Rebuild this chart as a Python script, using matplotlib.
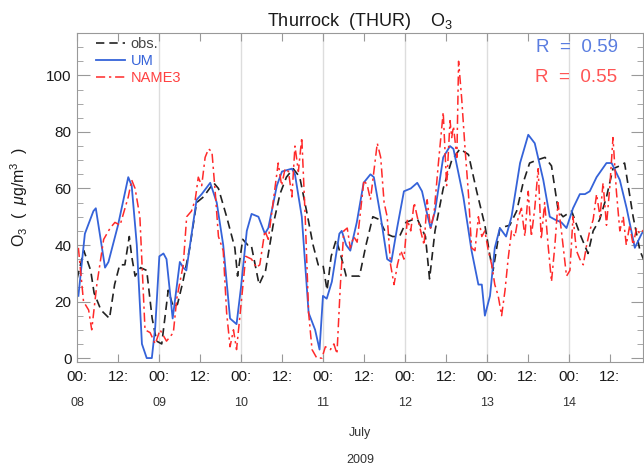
import numpy as np
import matplotlib
matplotlib.use("Agg")
import matplotlib.pyplot as plt
from matplotlib.ticker import MultipleLocator

plt.rcParams['font.family'] = ['Liberation Sans', 'DejaVu Sans']
plt.rcParams['mathtext.fontset'] = 'custom'
plt.rcParams['mathtext.rm'] = 'Liberation Sans'
plt.rcParams['mathtext.it'] = 'Liberation Sans:italic'

# === values: (hours since 8 July 00:00, O3 in ug/m3) ===
obs = [(0, 28), (2, 38), (4, 31), (5, 23), (7, 17), (9.5, 14), (11, 26), (12.5, 33), (14, 33),
       (15.3, 43), (16, 36), (17, 29), (18.6, 32), (20.4, 31), (22, 14), (23.3, 6), (24.8, 5),
       (26.7, 24), (28.2, 18), (29.4, 19), (31, 27), (33, 39), (35, 55), (37, 57), (40, 62),
       (41.4, 60), (43.8, 50), (46.2, 39), (47, 29), (48.5, 42), (50, 40), (51, 40), (53.3, 26),
       (55.2, 31), (57.4, 47), (59.4, 58), (61.3, 64), (63.3, 67), (65.2, 64), (67.2, 52),
       (69.1, 40), (70.6, 33), (72, 33), (73.2, 24), (74.4, 36), (75.9, 42), (77.3, 36),
       (78.8, 29), (81.2, 29), (82.7, 29), (84.6, 40), (86.6, 50), (88.5, 49), (90.5, 44),
       (92.4, 43), (94.4, 43), (96.3, 48), (98.3, 49), (99.7, 49), (102, 43), (103.2, 28),
       (104.8, 45), (107.2, 60), (109.7, 70), (112.1, 74), (114.6, 72), (117, 59), (119.4, 47),
       (120.9, 36), (121.8, 31), (123.8, 46), (126.7, 47), (128.7, 52), (130.6, 62), (132.5, 69),
       (134.5, 70), (137, 71), (138.9, 68), (140.9, 52), (142.3, 50), (144.8, 52), (147.2, 44),
       (149.6, 37), (151.1, 45), (153, 49), (155, 57), (156.9, 67), (158.9, 68), (160.3, 69),
       (162.8, 50), (164.8, 38), (166.5, 33)]

um = [(0.4, 22), (2.3, 44), (4.8, 52), (5.5, 53), (8.2, 32), (9.2, 34), (12, 47), (15, 64),
      (16, 61), (17.5, 40), (19, 5), (20.4, 0), (21.9, 0), (22.9, 11), (24.1, 36), (25.3, 37),
      (26.2, 35), (28, 14), (30.1, 34), (31.1, 32), (32, 31), (35, 56), (36.5, 58), (39, 62),
      (40.9, 55), (42.8, 40), (44.8, 14), (46.7, 12), (48, 25), (49.7, 45), (51.1, 51),
      (53.1, 50), (55, 44), (56, 46), (58.5, 61), (60, 66), (62.9, 67), (63.8, 65), (65.8, 50),
      (67.8, 16), (69.7, 10), (71, 3), (72, 22), (73.1, 21), (74.6, 27), (76.8, 44), (77.5, 45),
      (78.8, 40), (80, 38), (81.9, 48), (83.9, 62), (85.9, 65), (86.9, 64), (88.9, 50),
      (90.8, 35), (92, 34), (93.7, 46), (95.7, 59), (97.7, 60), (99.6, 62), (101, 59),
      (102.3, 52), (103.5, 46), (104.8, 52), (107.2, 71), (109.2, 75), (110.2, 74), (113.1, 57),
      (115.5, 38), (117.5, 26), (118.5, 26), (119.4, 15), (120.9, 22), (122.3, 39), (123.8, 46),
      (125.6, 43), (127.2, 50), (129.7, 69), (132.1, 79), (134, 76), (136.5, 63), (138.4, 50),
      (139.9, 49), (141.8, 48), (143.3, 46), (145.2, 53), (147.2, 58), (148.7, 58), (150.1, 59),
      (152.1, 64), (155, 69), (156.5, 69), (158.9, 63), (160.9, 53), (163.3, 39), (165.3, 44),
      (166.5, 46)]

name3 = [(0.4, 39), (1.9, 20), (3.4, 17), (4.3, 10), (5.8, 26), (7.8, 42), (9.7, 46), (11.1, 48),
         (12.6, 47), (15, 57), (16, 63), (17, 60), (18.4, 50), (19.9, 10), (21.4, 9), (22.9, 5),
         (24.3, 10), (26.2, 6), (28.2, 9), (29.2, 21), (31.1, 33), (32.1, 50), (33.5, 52),
         (34.6, 56), (35.5, 64), (36.5, 61), (37.5, 71), (38.5, 74), (39.5, 73), (40.5, 58),
         (41.4, 43), (42.8, 38), (43.8, 16), (44.8, 4), (45.8, 10), (46.7, 3), (47.7, 15),
         (49.4, 36), (51.1, 35), (52.5, 32), (53.5, 33), (55, 45), (56, 42), (57.4, 55),
         (58.5, 65), (58.9, 69), (59.9, 61), (60.9, 67), (61.9, 66), (62.9, 57), (63.8, 75),
         (64.8, 66), (65.8, 78), (66.8, 50), (67.8, 16), (68.8, 3), (70.2, 0), (71.7, 0),
         (72.7, 4), (74.2, 3), (75.2, 5), (76.1, 1.5), (77.1, 26), (78.1, 45), (79.1, 46),
         (80, 39), (81, 43), (82, 41), (83, 52), (84, 63), (85, 61), (85.9, 56), (86.9, 66),
         (87.9, 76), (88.9, 71), (89.9, 55), (90.8, 50), (91.8, 33), (92.8, 26), (93.8, 33),
         (94.8, 38), (95.7, 35), (96.7, 49), (97.7, 45), (98.7, 55), (99.6, 50), (100.6, 45),
         (101.6, 40), (102.5, 56), (103.5, 46), (104.5, 51), (105.8, 69), (107.2, 87),
         (108.2, 61), (109.2, 84), (109.7, 78), (110.2, 82), (111.2, 71), (111.7, 105),
         (112.6, 92), (113.6, 74), (114.6, 58), (115.5, 39), (116.5, 38), (117.5, 50),
         (118.5, 43), (119.4, 45), (120.4, 38), (121.4, 33), (122.3, 26), (123.3, 22),
         (124.3, 15), (125.3, 24), (126.2, 35), (127.2, 45), (128.2, 43), (129.2, 50),
         (130.1, 53), (131.1, 43), (132.1, 59), (133, 43), (134, 53), (135, 67), (135.9, 42),
         (136.9, 55), (137.9, 40), (138.9, 27), (139.9, 40), (140.8, 55), (141.8, 45),
         (143.3, 29), (144.3, 31), (145.2, 50), (146.2, 38), (147.2, 35), (148.2, 33),
         (149.2, 40), (150.1, 45), (151.1, 49), (152.1, 58), (153.1, 50), (154, 62), (155, 47),
         (156, 61), (156.9, 78), (157.9, 59), (158.9, 45), (159.9, 50), (160.8, 40), (161.8, 47),
         (162.8, 40), (163.8, 46), (164.7, 44), (166.5, 46)]

day_labels = ["08", "09", "10", "11", "12", "13", "14"]
r_um = 0.59
r_name3 = 0.55

# === figure ===
fig = plt.figure(figsize=(6.44, 4.67), dpi=100)
ax = fig.add_axes([0.1196, 0.2248, 0.8789, 0.7045])

spine_col = "#999999"
for d in range(1, 7):
    ax.axvline(d * 24, color="#dddddd", lw=1.0, zorder=0)

h, v = zip(*obs)
ax.plot(h, v, color="#222222", lw=1.2, ls=(0, (5, 3)), label="obs.")
h, v = zip(*um)
ax.plot(h, v, color="#3563d9", lw=1.3, label="UM")
h, v = zip(*name3)
ax.plot(h, v, color="#ff2a2a", lw=1.1, ls=(0, (6, 2.5, 1.5, 2.5)), label="NAME3")

ax.set_xlim(0, 165.7)
ax.set_ylim(-1.4, 115)

ticks = np.arange(0, 166, 12)
ax.set_xticks(ticks)
ax.set_xticklabels(["00:" if t % 24 == 0 else "12:" for t in ticks])
ax.set_yticks(np.arange(0, 101, 20))
ax.yaxis.set_minor_locator(MultipleLocator(5))
ax.tick_params(axis="both", which="both", direction="in", top=True, right=True,
               color=spine_col, labelsize=11, labelcolor="#1a1a1a")
ax.tick_params(axis="y", which="major", length=9, pad=4)
ax.tick_params(axis="y", which="minor", length=4)
ax.tick_params(axis="x", which="major", length=6, pad=6)
for s in ax.spines.values():
    s.set_color(spine_col)

ax.set_ylabel(r"O$_3$  (  $\mu$g/m$^3$  )", fontsize=11.5, color="#1a1a1a")
ax.yaxis.set_label_coords(-0.083, 0.5)

fig.text(0.559, 0.955, r"Thurrock  (THUR)    O$_3$", ha="center", va="center",
         fontsize=13, color="#1a1a1a")

for i, lab in enumerate(day_labels):
    ax.text(i * 24, -0.125, lab, transform=ax.get_xaxis_transform(), ha="center",
            va="center", fontsize=9, color="#333333")
ax.text(0.5, -0.216, "July", transform=ax.transAxes, ha="center", va="center",
        fontsize=9, color="#333333")
ax.text(0.5, -0.298, "2009", transform=ax.transAxes, ha="center", va="center",
        fontsize=9, color="#333333")

leg = ax.legend(loc="upper left", bbox_to_anchor=(0.02, 1.01), frameon=False,
                fontsize=10.5, handlelength=2.0, handletextpad=0.4, labelspacing=0.2,
                borderaxespad=0.1)
for txt, col in zip(leg.get_texts(), ["#444444", "#3563d9", "#ff4040"]):
    txt.set_color(col)

ax.text(0.955, 0.955, f"R  =  {r_um:.2f}", transform=ax.transAxes, ha="right", va="center",
        fontsize=13.5, color="#5a7de0")
ax.text(0.955, 0.865, f"R  =  {r_name3:.2f}", transform=ax.transAxes, ha="right",
        va="center", fontsize=13.5, color="#ff5555")

fig.savefig("out.png", dpi=100)
